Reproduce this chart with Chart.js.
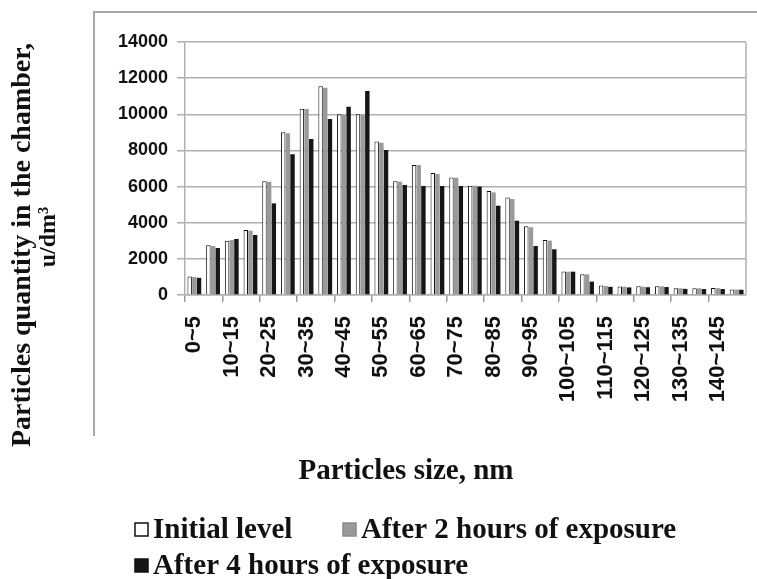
<!DOCTYPE html>
<html>
<head>
<meta charset="utf-8">
<script src="https://cdn.jsdelivr.net/npm/chart.js@4.4.4/dist/chart.umd.min.js"></script>
<style>
  html, body { margin: 0; background: #fff; }
</style>
</head>
<body>
<canvas id="chart" width="757" height="579"></canvas>
<script>
// Particle size bins, nm
const sizeBins = ['0~5', '5~10', '10~15', '15~20', '20~25', '25~30', '30~35', '35~40', '40~45', '45~50',
  '50~55', '55~60', '60~65', '65~70', '70~75', '75~80', '80~85', '85~90', '90~95', '95~100',
  '100~105', '105~110', '110~115', '115~120', '120~125', '125~130', '130~135', '135~140', '140~145', '145~150'];

// Particle counts, u/dm3
const initialLevel = [1020, 2750, 3000, 3600, 6300, 9000, 10300, 11550, 10000, 10000,
  8500, 6300, 7200, 6750, 6500, 6050, 5750, 5400, 3800, 3050,
  1300, 1150, 520, 470, 480, 490, 380, 380, 390, 310];
const after2Hours = [1000, 2710, 3040, 3560, 6270, 8950, 10290, 11470, 9960, 9960,
  8430, 6270, 7190, 6700, 6490, 6050, 5680, 5310, 3750, 3010,
  1290, 1140, 500, 460, 460, 480, 370, 370, 380, 300];
const after4Hours = [950, 2600, 3100, 3320, 5070, 7790, 8630, 9740, 10420, 11290,
  8020, 6090, 6030, 6030, 6030, 6000, 4940, 4110, 2710, 2530,
  1290, 740, 450, 420, 430, 440, 340, 330, 330, 290];

const yTicks = [0, 2000, 4000, 6000, 8000, 10000, 12000, 14000];

const seriesNames = ['Initial level', 'After 2 hours of exposure', 'After 4 hours of exposure'];
const xTitle = 'Particles size, nm';
const yTitle = ['Particles quantity in the chamber,', 'u/dm³'];

const gridGray = '#b0b0b0';
const serif = '"Liberation Serif", "Times New Roman", serif';
const sans = '"Liberation Sans", Arial, sans-serif';

// frame, axis titles and legend drawn straight onto the canvas
const decorations = {
  id: 'decorations',
  afterDraw(chart) {
    const { ctx, chartArea: a } = chart;
    ctx.save();

    ctx.strokeStyle = '#a8a8a8';
    ctx.lineWidth = 2;
    ctx.beginPath();
    ctx.moveTo(94, 436);
    ctx.lineTo(94, 12);
    ctx.lineTo(757, 12);
    ctx.stroke();

    ctx.strokeStyle = gridGray;
    ctx.lineWidth = 1.5;
    ctx.beginPath();
    ctx.moveTo(a.right, a.top);
    ctx.lineTo(a.right, a.bottom);
    ctx.stroke();

    ctx.fillStyle = '#111';
    ctx.textAlign = 'center';
    ctx.textBaseline = 'middle';
    ctx.font = 'bold 29px ' + serif;
    ctx.fillText(xTitle, 406, 472);

    ctx.save();
    ctx.translate(23, 245);
    ctx.rotate(-Math.PI / 2);
    ctx.font = 'bold 28px ' + serif;
    ctx.fillText(yTitle[0], 0, 0);
    ctx.font = 'bold 24px ' + serif;
    ctx.fillText(yTitle[1], 8, 26);
    ctx.restore();

    // legend
    const spots = [[135, 530], [343, 530], [135, 566]];
    ctx.font = 'bold 29px ' + serif;
    ctx.textAlign = 'left';
    chart.data.datasets.forEach((ds, i) => {
      const [x, y] = spots[i];
      ctx.fillStyle = ds.backgroundColor;
      ctx.fillRect(x, y - 7, 13, 13);
      ctx.strokeStyle = i === 1 ? '#8a8a8a' : '#111';
      ctx.lineWidth = 1.5;
      ctx.strokeRect(x, y - 7, 13, 13);
      ctx.fillStyle = '#111';
      ctx.fillText(ds.label, x + 18, y + 1);
    });

    ctx.restore();
  }
};

new Chart(document.getElementById('chart'), {
  type: 'bar',
  data: {
    labels: sizeBins,
    datasets: [
      { label: seriesNames[0], data: initialLevel, backgroundColor: '#ffffff', borderColor: '#111', borderWidth: 1 },
      { label: seriesNames[1], data: after2Hours, backgroundColor: '#9a9a9a', borderWidth: 0 },
      { label: seriesNames[2], data: after4Hours, backgroundColor: '#161616', borderWidth: 0 }
    ]
  },
  options: {
    responsive: false,
    animation: false,
    devicePixelRatio: 1,
    categoryPercentage: 0.75,
    barPercentage: 0.95,
    layout: { padding: { top: 42, right: 11, left: 0, bottom: 0 } },
    plugins: {
      legend: { display: false },
      tooltip: { enabled: false }
    },
    scales: {
      x: {
        grid: {
          drawOnChartArea: false,
          tickLength: 7,
          lineWidth: 1.5,
          color: ctx => (ctx.index % 2 === 0 ? '#999' : 'rgba(0,0,0,0)')
        },
        border: { color: gridGray, width: 1.5 },
        ticks: {
          autoSkip: false,
          maxRotation: 90,
          minRotation: 90,
          padding: 14,
          color: '#111',
          font: { family: sans, size: 22, weight: 'bold' },
          callback: (v, i) => (i % 2 === 0 ? sizeBins[i] : '')
        },
        afterFit: scale => {
          scale.height = 284;
          scale.paddingLeft = 0;
          scale.paddingRight = 0;
        }
      },
      y: {
        min: 0,
        max: 14000,
        afterBuildTicks: scale => { scale.ticks = yTicks.map(value => ({ value })); },
        grid: { color: gridGray, lineWidth: 1.5, tickLength: 8 },
        border: { color: gridGray, width: 1.5 },
        ticks: {
          padding: 9,
          color: '#111',
          font: { family: sans, size: 18, weight: 'bold' },
          callback: value => String(value)
        },
        afterFit: scale => { scale.width = 185; }
      }
    }
  },
  plugins: [decorations]
});
</script>
</body>
</html>
